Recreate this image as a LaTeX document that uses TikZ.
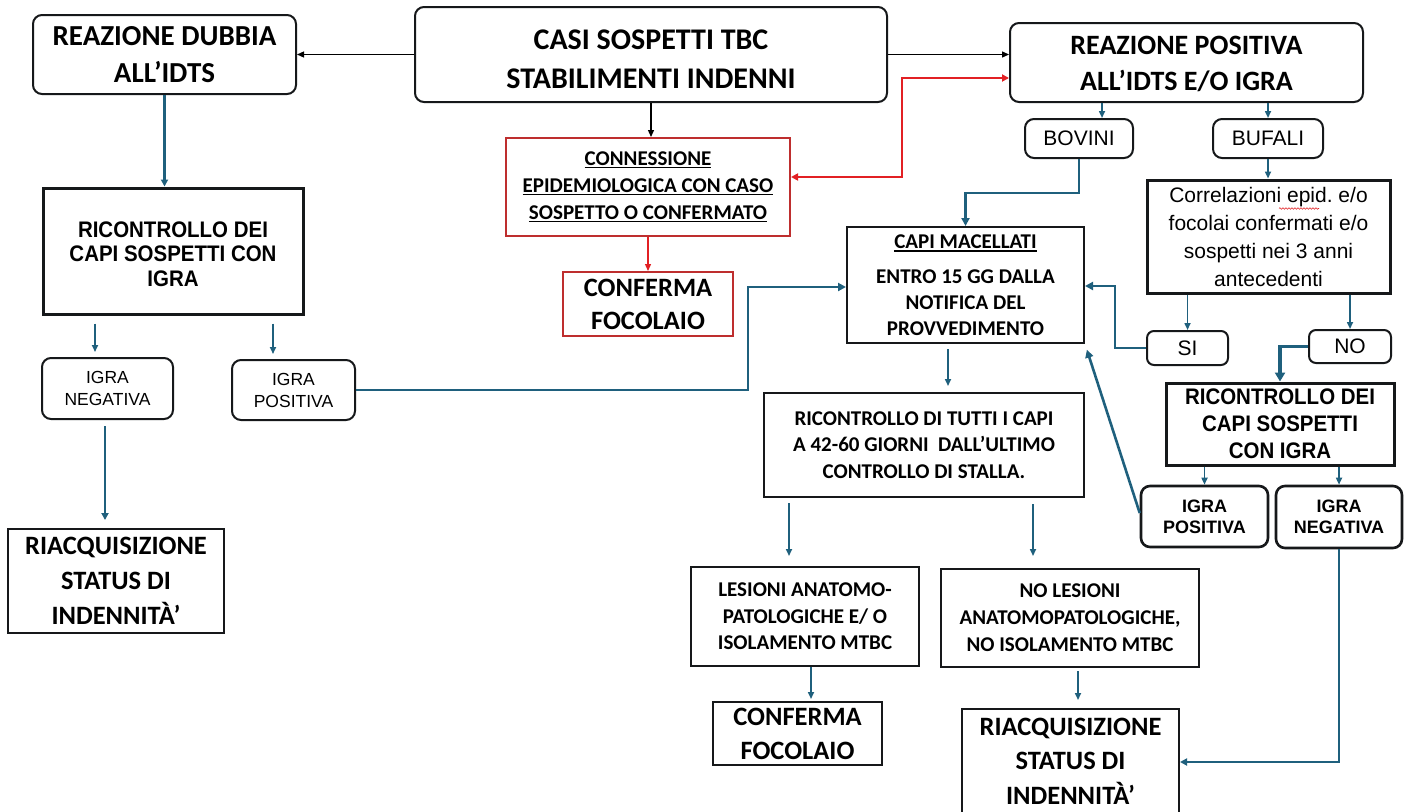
\documentclass[tikz,border=0pt]{standalone}
\usepackage{fontspec}
\usetikzlibrary{arrows.meta,decorations.pathmorphing}
\newfontfamily\calfont{Carlito}
\newfontfamily\arialfont{Liberation Sans}
\newfontfamily\narrowfont{Liberation Sans}[FakeStretch=0.91]
\newcommand\setfs[2]{\fontsize{#1}{#2}\selectfont}
\newcommand\ulin[1]{\setbox0\hbox{#1}\rlap{\rule[-3.2pt]{\wd0}{1.2pt}}\box0}
\definecolor{flowblue}{RGB}{31,96,125}
\definecolor{linered}{RGB}{226,32,36}
\definecolor{boxred}{RGB}{190,46,46}
\definecolor{ink}{RGB}{22,24,26}
\frenchspacing

\tikzset{
  rbox/.style={draw=ink, line width=2pt, rounded corners=9pt, fill=white, align=center, inner sep=0pt},
  sbox/.style={draw=ink, line width=2pt, fill=white, align=center, inner sep=0pt},
  heavybox/.style={sbox, line width=3pt},
  redbox/.style={sbox, draw=boxred},
  arrblack/.style={draw=black, line width=1.3pt, -{Triangle[length=7pt,width=6pt]}},
  arrblue/.style={draw=flowblue, line width=1.6pt, -{Triangle[length=7pt,width=6pt]}},
  arrbluemid/.style={draw=flowblue, line width=2.1pt, -{Triangle[length=7pt,width=7pt]}},
  arrbluethick/.style={draw=flowblue, line width=2.6pt, -{Triangle[length=8pt,width=8pt]}},
  arrbluewide/.style={draw=flowblue, line width=3.6pt, -{Triangle[length=9pt,width=10pt]}},
  arrred/.style={draw=linered, line width=1.8pt},
}

\begin{document}
\begin{tikzpicture}[x=1pt,y=-1pt]
\fill[white] (0,0) rectangle (1412,811);
\useasboundingbox (0,0) rectangle (1412,811);

% --- top row
\node[rbox, minimum width=263pt, minimum height=79pt,
      font=\calfont\bfseries\setfs{29pt}{37pt}] (dubbia) at (164.5,54.5)
      {REAZIONE DUBBIA\\ALL’IDTS};
\node[rbox, minimum width=472pt, minimum height=95pt,
      font=\calfont\bfseries\setfs{30pt}{39pt}] (casi) at (651,54.5)
      {\rule{0pt}{29pt}CASI SOSPETTI TBC\\STABILIMENTI INDENNI};
\node[rbox, minimum width=353pt, minimum height=79pt,
      font=\calfont\bfseries\setfs{28pt}{36pt}] (positiva) at (1186.5,62.5)
      {\rule{0pt}{22pt}REAZIONE POSITIVA\\ALL’IDTS E/O IGRA};

% --- epidemiological branch (red)
\node[redbox, minimum width=284pt, minimum height=98pt,
      font=\calfont\bfseries\setfs{21pt}{27pt}] (conn) at (648,187)
      {\ulin{CONNESSIONE}\\\ulin{EPIDEMIOLOGICA CON CASO}\\\ulin{SOSPETTO O CONFERMATO}};
\node[redbox, minimum width=170pt, minimum height=64pt,
      font=\calfont\bfseries\setfs{26.5pt}{33pt}] (confR) at (648,304)
      {CONFERMA\\FOCOLAIO};

% --- doubtful reaction branch
\node[heavybox, minimum width=260pt, minimum height=126pt,
      font=\narrowfont\bfseries\setfs{22.5pt}{24.5pt}] (ricL) at (173,251)
      {\rule{0pt}{22pt}RICONTROLLO DEI\\CAPI SOSPETTI CON\\IGRA};
\node[rbox, minimum width=131pt, minimum height=61pt,
      font=\arialfont\setfs{17.5pt}{22pt}] (negL) at (107.5,388.5)
      {IGRA\\NEGATIVA};
\node[rbox, minimum width=123pt, minimum height=60pt,
      font=\arialfont\setfs{17.5pt}{22pt}] (posL) at (293.5,390)
      {IGRA\\POSITIVA};
\node[sbox, minimum width=216pt, minimum height=104pt,
      font=\calfont\bfseries\setfs{26.5pt}{35pt}] (riacL) at (116,581)
      {RIACQUISIZIONE\\STATUS DI\\INDENNITÀ’};

% --- positive reaction branch
\node[rbox, minimum width=108pt, minimum height=39pt,
      font=\arialfont\setfs{21pt}{24pt}] (bovini) at (1079,138.5) {BOVINI};
\node[rbox, minimum width=110pt, minimum height=39pt,
      font=\arialfont\setfs{21pt}{24pt}] (bufali) at (1268,138.5) {BUFALI};
\node[heavybox, minimum width=243pt, minimum height=113pt,
      font=\arialfont\setfs{21pt}{28pt}] (corr) at (1268.5,236.5)
      {Correlazioni epid. e/o\\focolai confermati e/o\\sospetti nei 3 anni\\antecedenti};
\node[sbox, minimum width=237pt, minimum height=116pt,
      font=\calfont\bfseries\setfs{21pt}{26pt}] (capi) at (965.5,285)
      {\ulin{CAPI MACELLATI}\\[9pt]ENTRO 15 GG DALLA\\NOTIFICA DEL\\PROVVEDIMENTO};
\node[rbox, minimum width=81pt, minimum height=34pt, rounded corners=7pt,
      font=\arialfont\setfs{21pt}{24pt}] (si) at (1187.5,348) {SI};
\node[rbox, minimum width=82pt, minimum height=33pt, rounded corners=7pt,
      font=\arialfont\setfs{21pt}{24pt}] (no) at (1350,346.5) {NO};
\node[heavybox, minimum width=228pt, minimum height=82pt,
      font=\narrowfont\bfseries\setfs{22.5pt}{27pt}] (ricR) at (1280,424)
      {RICONTROLLO DEI\\CAPI SOSPETTI\\CON IGRA};
\node[rbox, line width=2.6pt, minimum width=127pt, minimum height=61pt,
      font=\arialfont\bfseries\setfs{18pt}{21pt}] (posR) at (1204.5,516.5)
      {IGRA\\POSITIVA};
\node[rbox, line width=2.6pt, minimum width=126pt, minimum height=62pt,
      font=\arialfont\bfseries\setfs{18pt}{21pt}] (negR) at (1339,517)
      {IGRA\\NEGATIVA};
\node[sbox, minimum width=320pt, minimum height=104pt,
      font=\calfont\bfseries\setfs{21pt}{26.5pt}] (tutti) at (924,445)
      {RICONTROLLO DI TUTTI I CAPI\\A 42-60 GIORNI\ \ DALL’ULTIMO\\CONTROLLO DI STALLA.};
\node[sbox, minimum width=228pt, minimum height=99pt,
      font=\calfont\bfseries\setfs{21pt}{26.5pt}] (les) at (805,616.5)
      {LESIONI ANATOMO-\\PATOLOGICHE E/ O\\ISOLAMENTO MTBC};
\node[sbox, minimum width=258pt, minimum height=98pt,
      font=\calfont\bfseries\setfs{21pt}{27pt}] (noles) at (1070,618)
      {NO LESIONI\\ANATOMOPATOLOGICHE,\\NO ISOLAMENTO MTBC};
\node[sbox, minimum width=169pt, minimum height=63pt,
      font=\calfont\bfseries\setfs{26.5pt}{34pt}] (confB) at (797.5,733.5)
      {CONFERMA\\FOCOLAIO};
\node[sbox, minimum width=217pt, minimum height=104pt,
      font=\calfont\bfseries\setfs{26.5pt}{34.5pt}] (riacB) at (1070.5,761)
      {RIACQUISIZIONE\\STATUS DI\\INDENNITÀ’};

% spell-check wave under "epid."
\draw[linered, line width=0.6pt, decorate,
      decoration={snake, amplitude=0.8pt, segment length=3pt}]
      (1279,208.5) -- (1319,208.5);

% --- black connectors from the top box
\draw[arrblack] (casi.west) -- (dubbia.east);
\draw[arrblack] (casi.east) -- (casi.east -| positiva.west);
\draw[arrblack] (casi.south) -- (casi.south |- conn.north);

% --- red connectors
\draw[arrred, {Triangle[length=7pt,width=7pt]}-{Triangle[length=7pt,width=7pt]}]
      ([yshift=10pt]conn.east) -- ++(111,0) |- ([yshift=-15.5pt]positiva.west);
\draw[arrred, line width=1.3pt, -{Triangle[length=7pt,width=6pt]}]
      (conn.south) -- (confR.north);

% --- doubtful reaction branch
\draw[arrbluemid] (dubbia.south) -- (dubbia.south |- ricL.north);
\draw[arrblue, shorten <=8pt, shorten >=5pt]
      ([xshift=-12.5pt]negL.north |- ricL.south) -- ([xshift=-12.5pt]negL.north);
\draw[arrblue, shorten <=8pt, shorten >=5pt]
      ([xshift=-20.5pt]posL.north |- ricL.south) -- ([xshift=-20.5pt]posL.north);
\draw[arrbluemid, shorten <=6pt, shorten >=8pt]
      ([xshift=-2.5pt]negL.south) -- ([xshift=-2.5pt]negL.south |- riacL.north);
\draw[arrbluethick] (posL.east) -- ++(392,0) |- ([yshift=-2pt]capi.west);

% --- positive reaction branch
\draw[arrblue] ([xshift=23pt]bovini.north |- positiva.south) -- ([xshift=23pt]bovini.north);
\draw[arrblue] (bufali.north |- positiva.south) -- (bufali.north);
\draw[arrbluethick] (bovini.south) -- ++(0,34) -| (capi.north);
\draw[arrblue] (bufali.south) -- (bufali.south |- corr.north);
\draw[arrblue] (si.north |- corr.south) -- (si.north);
\draw[arrblue] (no.north |- corr.south) -- (no.north);
\draw[arrbluethick] (si.west) -- ++(-31,0) |- ([yshift=-1pt]capi.east);
\draw[arrbluewide] (no.west) -| (ricR.north);
\draw[arrblue] (posR.north |- ricR.south) -- (posR.north);
\draw[arrblue] (negR.north |- ricR.south) -- (negR.north);
\draw[arrbluethick, shorten >=6pt] ([yshift=3.5pt]posR.west) -- (capi.south east);
\draw[arrblue, shorten <=5pt, shorten >=6pt]
      ([xshift=24pt]tutti.north |- capi.south) -- ([xshift=24pt]tutti.north);
\draw[arrblue, shorten <=5pt, shorten >=10pt]
      ([xshift=-16pt]les.north |- tutti.south) -- ([xshift=-16pt]les.north);
\draw[arrblue, shorten <=6pt, shorten >=12pt]
      ([xshift=-37pt]noles.north |- tutti.south) -- ([xshift=-37pt]noles.north);
\draw[arrblue, shorten >=2pt]
      ([xshift=6pt]les.south) -- ([xshift=6pt]les.south |- confB.north);
\draw[arrblue, shorten <=3pt, shorten >=8pt]
      ([xshift=8pt]noles.south) -- ([xshift=8pt]noles.south |- riacB.north);
\draw[arrbluemid] (negR.south) |- ([yshift=-1pt]riacB.east);
\end{tikzpicture}
\end{document}
